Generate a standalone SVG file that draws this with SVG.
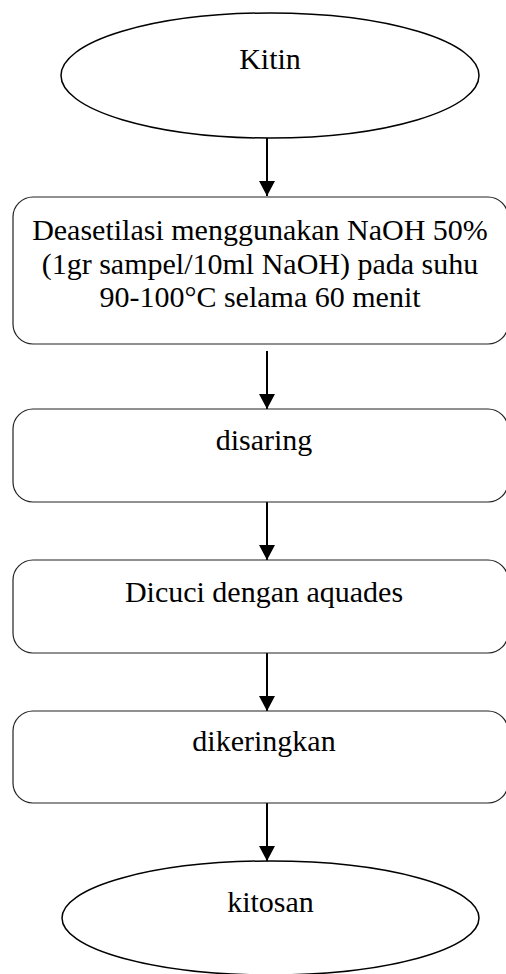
<svg xmlns="http://www.w3.org/2000/svg" width="506" height="974" viewBox="0 0 506 974">
<defs>
<style>
.ell{fill:#fff;stroke:#000;stroke-width:1.5}
.box{fill:#fff;stroke:#222;stroke-width:1.2}
.t{font-family:"Liberation Serif","Times New Roman",serif;font-size:30px;fill:#000;text-anchor:middle}
.c{stroke:#000;stroke-width:2;fill:none}
</style>
<marker id="ah" markerWidth="15" markerHeight="16" refX="15" refY="8" orient="auto" markerUnits="userSpaceOnUse" viewBox="0 0 15 16">
<path d="M0,0 L15,8 L0,16 Z" fill="#000"/>
</marker>
</defs>
<rect width="506" height="974" fill="#fff"/>
<g id="connectors">
<line class="c" x1="267" y1="138" x2="267" y2="196" marker-end="url(#ah)"/>
<line class="c" x1="267" y1="351" x2="267" y2="409" marker-end="url(#ah)"/>
<line class="c" x1="267" y1="502" x2="267" y2="560" marker-end="url(#ah)"/>
<line class="c" x1="267" y1="653" x2="267" y2="711" marker-end="url(#ah)"/>
<line class="c" x1="267" y1="803" x2="267" y2="861" marker-end="url(#ah)"/>
</g>
<g id="kitin">
<ellipse class="ell" cx="270" cy="75.5" rx="209" ry="62.5"/>
<text class="t" x="270" y="69">Kitin</text>
</g>
<g id="deasetilasi">
<rect class="box" x="13" y="197" width="495" height="147" rx="20"/>
<text class="t" x="260" y="240">Deasetilasi menggunakan NaOH 50%</text>
<text class="t" x="260" y="273.5">(1gr sampel/10ml NaOH) pada suhu</text>
<text class="t" x="260" y="307">90-100°C selama 60 menit</text>
</g>
<g id="disaring">
<rect class="box" x="13" y="409" width="495" height="93" rx="20"/>
<text class="t" x="264" y="450">disaring</text>
</g>
<g id="dicuci">
<rect class="box" x="13" y="560" width="495" height="93" rx="20"/>
<text class="t" x="264" y="602">Dicuci dengan aquades</text>
</g>
<g id="dikeringkan">
<rect class="box" x="13" y="711" width="495" height="92" rx="20"/>
<text class="t" x="264" y="751">dikeringkan</text>
</g>
<g id="kitosan">
<ellipse class="ell" cx="270.5" cy="918" rx="208.5" ry="57"/>
<text class="t" x="270.5" y="912">kitosan</text>
</g>
</svg>
